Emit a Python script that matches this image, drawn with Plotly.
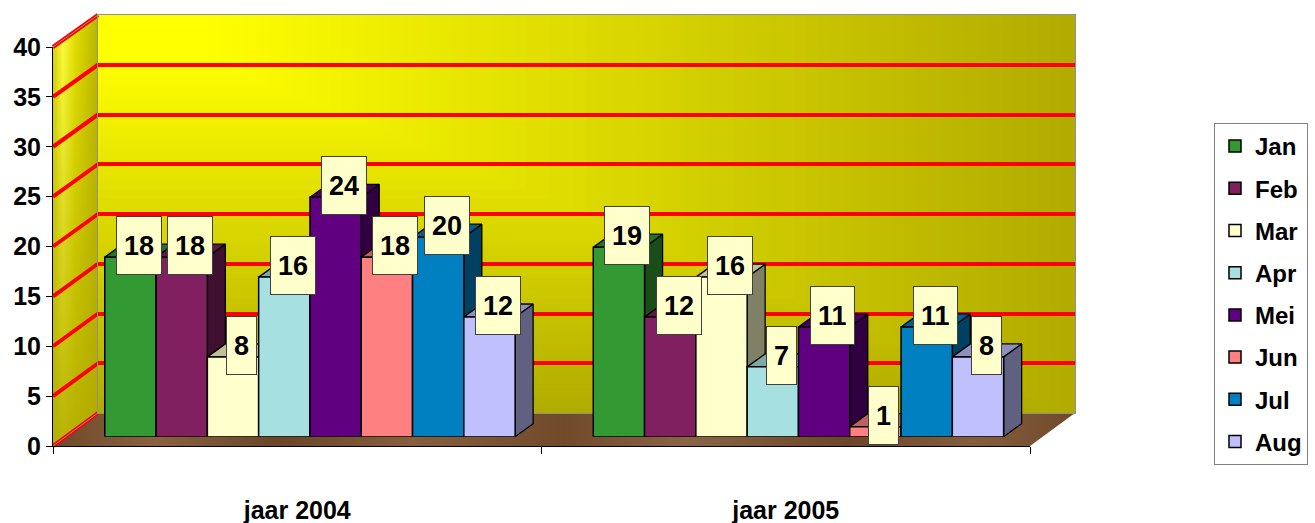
import base64
import plotly.graph_objects as go

# ---------------- data ----------------
categories = ["jaar 2004", "jaar 2005"]
months = ["Jan", "Feb", "Mar", "Apr", "Mei", "Jun", "Jul", "Aug"]
jan = [18, 19]
feb = [18, 12]
mar = [8, 16]
apr = [16, 7]
mei = [24, 11]
jun = [18, 1]
jul = [20, 11]
aug = [12, 8]
series_values = [jan, feb, mar, apr, mei, jun, jul, aug]
y_ticks = [0, 5, 10, 15, 20, 25, 30, 35, 40]

# ---------------- styles ----------------
front_colors = ["#339933", "#802060", "#ffffcc", "#a6e0e0", "#600080", "#ff8080", "#0080c0", "#c0c0ff"]
side_colors = ["#1a4d1a", "#401030", "#808066", "#538080", "#300040", "#804040", "#004060", "#606080"]
top_colors = ["#267326", "#601848", "#bfbf99", "#7da8a8", "#480060", "#bf6060", "#006090", "#9090bf"]

W, H = 1315, 523
FONT = "Liberation Sans, Arial, sans-serif"

# frame geometry (pixels)
FRONT = dict(x0=53, x1=1030, y0=446, y1=47)
MID = dict(x0=65.7, x1=1042.7, y0=436.7, y1=37.7)
BACK = dict(x0=98, x1=1075, y0=413, y1=15)
DEPTH_PX = (18, 13)
BARGAP = 0.16


def px(x):
    return x / W


def py(y):
    return 1 - y / H


# ---------------- background image (walls + floor) ----------------
def hexc(r, g, b):
    return "#%02x%02x%02x" % (int(r), int(g), int(b))


def wall_color(d):
    t = max(0.0, (d - 0.12) / 0.88)
    return hexc(255 - t * (255 - 178), 255 - t * (255 - 172), 0)


def background_svg():
    bw = BACK["x1"] - BACK["x0"]
    bh = BACK["y0"] - BACK["y1"]
    s = [f'<svg xmlns="http://www.w3.org/2000/svg" width="{W}" height="{H}" viewBox="0 0 {W} {H}" preserveAspectRatio="none">']
    s.append('<defs>'
             '<linearGradient id="side" x1="0" y1="0" x2="1" y2="0">'
             '<stop offset="0" stop-color="#d8d400"/><stop offset="0.22" stop-color="#ffff40"/>'
             '<stop offset="0.5" stop-color="#e2de00"/><stop offset="1" stop-color="#b8b400"/></linearGradient>'
             '<linearGradient id="sidev" x1="0" y1="0" x2="0" y2="1">'
             '<stop offset="0" stop-color="#b0aa00" stop-opacity="0"/>'
             '<stop offset="1" stop-color="#b0aa00" stop-opacity="0.9"/></linearGradient>'
             '<linearGradient id="floor" x1="0" y1="0" x2="1" y2="0">'
             '<stop offset="0" stop-color="#6e4828"/><stop offset="0.1" stop-color="#8a6242"/>'
             '<stop offset="0.22" stop-color="#6a4526"/><stop offset="0.35" stop-color="#86603e"/>'
             '<stop offset="0.5" stop-color="#704a2a"/><stop offset="0.62" stop-color="#8a6444"/>'
             '<stop offset="0.78" stop-color="#6c4628"/><stop offset="0.9" stop-color="#845e3c"/>'
             '<stop offset="1" stop-color="#704a2c"/></linearGradient>'
             '</defs>')
    n = 80
    for k in range(n, 0, -1):
        d = k / n
        s.append(f'<rect x="{BACK["x0"]}" y="{BACK["y1"]}" width="{bw * d:.2f}" height="{bh * d:.2f}" fill="{wall_color(d)}"/>')
    side = f'{FRONT["x0"]},{FRONT["y1"]} {BACK["x0"]},{BACK["y1"]} {BACK["x0"]},{BACK["y0"]} {FRONT["x0"]},{FRONT["y0"]}'
    s.append(f'<polygon points="{side}" fill="url(#side)"/>')
    s.append(f'<polygon points="{side}" fill="url(#sidev)"/>')
    floor = f'{FRONT["x0"]},{FRONT["y0"]} {FRONT["x1"]},{FRONT["y0"]} {BACK["x1"]},{BACK["y0"]} {BACK["x0"]},{BACK["y0"]}'
    s.append(f'<polygon points="{floor}" fill="url(#floor)"/>')
    s.append('</svg>')
    return "data:image/svg+xml;base64," + base64.b64encode("".join(s).encode()).decode()


fig = go.Figure()

# dummy trace to create the back-wall subplot first
fig.add_trace(go.Scatter(x=[0], y=[0], mode="markers", marker=dict(opacity=0),
                         xaxis="x", yaxis="y", hoverinfo="skip", showlegend=False))

# bar geometry in data units of the middle plane
n_series = len(months)
group_w = 1 - BARGAP
bar_w = group_w / n_series
dx = DEPTH_PX[0] / (MID["x1"] - MID["x0"]) * 2
dy = DEPTH_PX[1] / (MID["y0"] - MID["y1"]) * 40


def bar_left(g, i):
    return g - group_w / 2 + i * bar_w


# side faces
for i, vals in enumerate(series_values):
    xs, ys = [], []
    for g, v in enumerate(vals):
        r = bar_left(g, i) + bar_w
        xs += [r, r + dx, r + dx, r, r, None]
        ys += [0, dy, v + dy, v, 0, None]
    fig.add_trace(go.Scatter(x=xs, y=ys, mode="lines", fill="toself", fillcolor=side_colors[i],
                             line=dict(color="black", width=1.3), xaxis="x2", yaxis="y2",
                             hoverinfo="skip", showlegend=False))
# top faces
for i, vals in enumerate(series_values):
    xs, ys = [], []
    for g, v in enumerate(vals):
        l = bar_left(g, i)
        r = l + bar_w
        xs += [l, l + dx, r + dx, r, l, None]
        ys += [v, v + dy, v + dy, v, v, None]
    fig.add_trace(go.Scatter(x=xs, y=ys, mode="lines", fill="toself", fillcolor=top_colors[i],
                             line=dict(color="black", width=1.3), xaxis="x2", yaxis="y2",
                             hoverinfo="skip", showlegend=False))

# front faces (bars)
for i, (m, vals) in enumerate(zip(months, series_values)):
    fig.add_trace(go.Bar(x=categories, y=vals, name=m, marker=dict(color=front_colors[i],
                         line=dict(color="black", width=1.5)), xaxis="x3", yaxis="y3",
                         legendgroup=m))

# front frame axes trace (invisible)
fig.add_trace(go.Scatter(x=categories, y=[0, 0], mode="markers", marker=dict(opacity=0),
                         xaxis="x4", yaxis="y4", hoverinfo="skip", showlegend=False))

# data labels
annotations = []
for i, vals in enumerate(series_values):
    for g, v in enumerate(vals):
        annotations.append(dict(
            x=bar_left(g, i) + bar_w / 2, y=v, xref="x2", yref="y2",
            text=f"<b>{v}</b>", showarrow=False, xshift=8.5, yshift=11.5,
            font=dict(family=FONT, size=27, color="black"),
            bgcolor="#ffffcc", bordercolor="#404040", borderwidth=1, borderpad=7, height=43))

# side wall gridlines
shapes = []
for t in y_ticks:
    yf = FRONT["y0"] + (FRONT["y1"] - FRONT["y0"]) * t / 40
    yb = BACK["y0"] + (BACK["y1"] - BACK["y0"]) * t / 40
    shapes.append(dict(type="line", xref="paper", yref="paper", x0=px(FRONT["x0"]), y0=py(yf),
                       x1=px(BACK["x0"]), y1=py(yb), line=dict(color="red", width=4), layer="below"))
    if t in (0, 40):
        shapes.append(dict(type="line", xref="paper", yref="paper", x0=px(FRONT["x0"]), y0=py(yf),
                           x1=px(BACK["x0"]), y1=py(yb), line=dict(color="#909090", width=1), layer="below"))

fig.update_layout(
    width=W, height=H,
    margin=dict(l=0, r=0, t=0, b=0, autoexpand=False),
    paper_bgcolor="white", plot_bgcolor="rgba(0,0,0,0)",
    barmode="group", bargap=BARGAP, bargroupgap=0,
    font=dict(family=FONT, color="black"),
    showlegend=True,
    legend=dict(x=px(1214), y=py(123), xanchor="left", yanchor="top",
                bgcolor="white", bordercolor="#808080", borderwidth=1,
                font=dict(family=FONT, size=24, color="black", weight="bold"),
                tracegroupgap=8, traceorder="grouped", entrywidth=110),
    images=[dict(source=background_svg(), xref="paper", yref="paper", x=0, y=1,
                 sizex=1, sizey=1, xanchor="left", yanchor="top", sizing="stretch", layer="below")],
    shapes=shapes,
    annotations=annotations,
    # back wall
    xaxis=dict(domain=[px(BACK["x0"]), px(BACK["x1"])], range=[0, 1], showgrid=False, zeroline=False,
               showticklabels=False, ticks="", showline=True, linecolor="#909090", linewidth=1,
               mirror=True, fixedrange=True),
    yaxis=dict(domain=[py(BACK["y0"]), py(BACK["y1"])], range=[0, 40], tickvals=y_ticks,
               showgrid=True, gridcolor="red", gridwidth=4, zeroline=False,
               showticklabels=False, ticks="", showline=True, linecolor="#909090", linewidth=1,
               mirror=True, fixedrange=True),
    # middle plane (3D faces)
    xaxis2=dict(domain=[px(MID["x0"]), px(MID["x1"])], range=[-0.5, 1.5], visible=False,
                anchor="y2", fixedrange=True),
    yaxis2=dict(domain=[py(MID["y0"]), py(MID["y1"])], range=[0, 40], visible=False,
                anchor="x2", fixedrange=True),
    xaxis3=dict(overlaying="x2", type="category", range=[-0.5, 1.5], visible=False,
                anchor="y3", fixedrange=True),
    yaxis3=dict(overlaying="y2", range=[0, 40], visible=False, anchor="x3", fixedrange=True),
    # front frame
    xaxis4=dict(domain=[px(FRONT["x0"]), px(FRONT["x1"])], type="category", range=[-0.5, 1.5],
                anchor="y4", showgrid=False, zeroline=False, showline=True, linecolor="black",
                linewidth=1, ticks="outside", tickson="boundaries", ticklen=7, tickcolor="black",
                tickfont=dict(family=FONT, size=25, color="black", weight="bold"),
                ticklabelstandoff=42, fixedrange=True),
    yaxis4=dict(domain=[py(FRONT["y0"]), py(FRONT["y1"])], range=[0, 40], tickvals=y_ticks,
                anchor="x4", showgrid=False, zeroline=False, showline=True, linecolor="black",
                linewidth=1, ticks="outside", ticklen=6, tickcolor="black",
                tickfont=dict(family=FONT, size=25, color="black", weight="bold"),
                fixedrange=True),
)

fig.write_html("out.html", config={"displayModeBar": False},
               post_script="document.body.style.margin='0';")
